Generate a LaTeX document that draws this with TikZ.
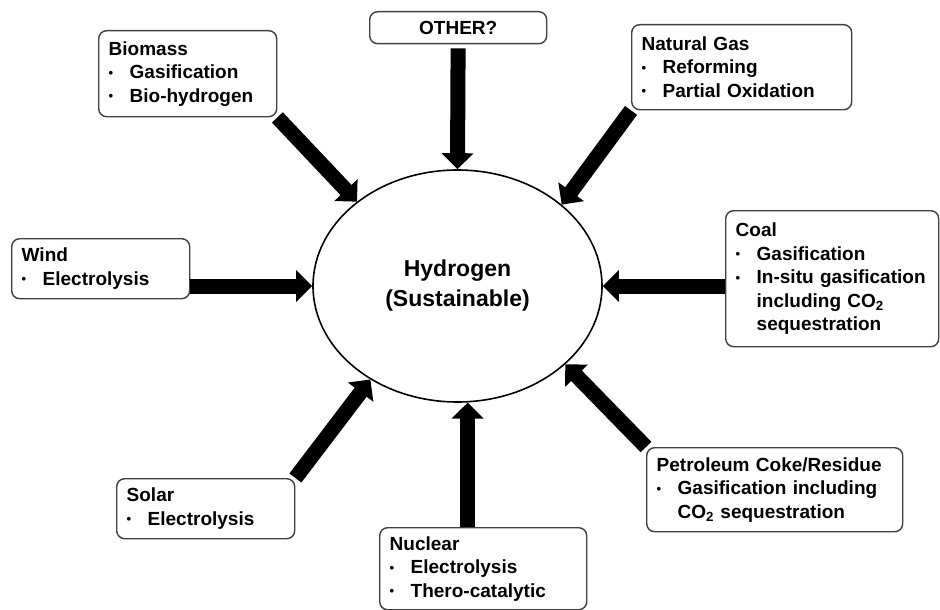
\documentclass[tikz,border=0pt]{standalone}
\usepackage{fontspec}
\setmainfont{Liberation Sans}
\usetikzlibrary{arrows.meta, positioning, shapes.geometric}

\newcommand{\srcitem}[1]{\makebox[21pt][l]{\raisebox{1.5pt}{\fontsize{13}{13}\selectfont\textbullet}}#1}
\newcommand{\srcmore}[1]{\hspace*{21pt}#1}

\begin{document}
\begin{tikzpicture}[x=1pt, y=-1pt,
  srcbox/.style={draw=black!75, line width=1.4pt, rounded corners=8pt, fill=white,
    anchor=north west, align=left, inner xsep=10pt, inner ysep=0pt,
    font=\bfseries\fontsize{19}{23.5}\selectfont},
  feed/.style={line width=15pt, -{Triangle[width=31pt, length=16pt]}}
]
\useasboundingbox (0,0) rectangle (940,610);

\node[ellipse, draw, line width=1.6pt, minimum width=289pt, minimum height=232pt,
  inner sep=0pt, align=center, font=\bfseries\fontsize{23}{30}\selectfont]
  (h2) at (457.5,286) {Hydrogen\\(Sustainable)};

\node[srcbox, minimum width=177pt, minimum height=32pt, text width=157pt, align=center]
  (other) at (369,11) {OTHER?};
\node[srcbox, minimum width=178pt, minimum height=86pt, text width=158pt]
  (bio) at (98,30) {Biomass\\ \srcitem{Gasification}\\ \srcitem{Bio-hydrogen}};
\node[srcbox, minimum width=220pt, minimum height=85pt, text width=200pt]
  (ng) at (631,24) {Natural Gas\\ \srcitem{Reforming}\\ \srcitem{Partial Oxidation}};
\node[srcbox, minimum width=178pt, minimum height=60pt, text width=158pt]
  (wind) at (11,238) {Wind\\ \srcitem{Electrolysis}};
\node[srcbox, minimum width=213pt, minimum height=136pt, text width=193pt]
  (coal) at (725,210) {Coal\\ \srcitem{Gasification}\\ \srcitem{In-situ gasification}\\
  \srcmore{including CO\textsubscript{2}}\\ \srcmore{sequestration}};
\node[srcbox, minimum width=178pt, minimum height=60pt, text width=158pt]
  (solar) at (116,478) {Solar\\ \srcitem{Electrolysis}};
\node[srcbox, minimum width=207pt, minimum height=82pt, text width=187pt]
  (nuc) at (379,527) {Nuclear\\ \srcitem{Electrolysis}\\ \srcitem{Thero-catalytic}};
\node[srcbox, minimum width=256pt, minimum height=84pt, text width=236pt]
  (pet) at (646,447) {Petroleum Coke/Residue\\ \srcitem{Gasification including}\\
  \srcmore{CO\textsubscript{2} sequestration}};

\path[feed]
(other) edge[shorten <=4pt] (h2.north)
(bio.south east) edge (h2.140)
(ng.south west) edge (h2.38)
(wind.east |- h2.west) edge (h2.west)
(coal.west |- h2.east) edge (h2.east)
(solar.north east) edge (h2.227)
(h2.275 |- nuc.north) edge (h2.275)
(pet.north west) edge (h2.-36)
;
\end{tikzpicture}
\end{document}
